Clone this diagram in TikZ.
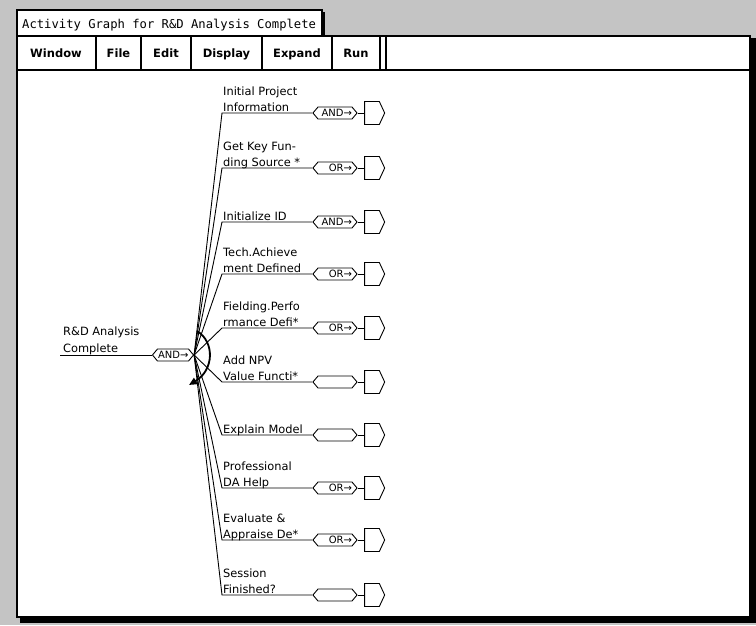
\documentclass[tikz,border=0pt]{standalone}
\usepackage{fontspec}
\setmainfont{DejaVu Sans}
\newfontfamily\titlefont{DejaVu Sans Mono}
\usetikzlibrary{shapes.symbols, arrows.meta}

\definecolor{desk}{RGB}{196,196,196}

\begin{document}
\begin{tikzpicture}[x=1pt, y=-1pt,
  lbl/.style={anchor=base west, inner sep=0pt, font=\fontsize{11.4}{13}\selectfont},
  gate/.style={draw, fill=white, signal, signal to=east and west, signal pointer angle=100,
    minimum width=44pt, minimum height=12pt, inner sep=0pt,
    font=\fontsize{10}{10}\selectfont, line width=0.9pt},
  outtag/.style={draw, fill=white, signal, signal to=east, signal pointer angle=130,
    minimum width=20pt, minimum height=23pt, inner sep=0pt, line width=0.9pt},
  wire/.style={line width=0.9pt},
  menuitem/.style={anchor=base, inner sep=0pt, font=\fontsize{11.5}{12}\selectfont\bfseries},
  frame/.style={draw, fill=white, line width=1.8pt}
]
\useasboundingbox (0,0) rectangle (756,625);

% desktop pattern
\fill[desk] (0,0) rectangle (756,625);

% window with drop shadow
\fill[black] (20,38) rectangle (756,623);
\draw[frame] (17,36) rectangle (750,617);

% title tab
\fill[black] (20,12) rectangle (325,36);
\draw[frame] (17,10) rectangle (322,36);
\node[anchor=base west, inner sep=0pt, font=\titlefont\fontsize{12.2}{13}\selectfont]
  (title) at (22,28) {Activity Graph for R\&D Analysis Complete};

% menu bar
\draw[frame] (17,36) rectangle (750,70);
\foreach \mx in {96,141,191,262,332,380,386}
  \draw[line width=1.6pt] (\mx,36) -- (\mx,70);
\node[menuitem] (mwindow)  at (56,57)  {Window};
\node[menuitem] (mfile)    at (118.5,57) {File};
\node[menuitem] (medit)    at (166,57) {Edit};
\node[menuitem] (mdisplay) at (226.5,57) {Display};
\node[menuitem] (mexpand)  at (297,57) {Expand};
\node[menuitem] (mrun)     at (356,57) {Run};

% root activity
\node[lbl] (rootA) at (63,335) {R\&D Analysis};
\node[lbl] (rootB) at (63,352) {Complete};
\coordinate (rootin) at (60,355);
\node[gate, minimum width=40pt] (g0) at (173,355) {\makebox[31pt][r]{AND→}};
\draw[wire] (rootin) -- (g0.west);

% sub-activities
\foreach \i/\y/\la/\lb/\op in {
  1/113/{Initial Project}/{Information}/{AND→},
  2/168/{Get Key Fun-}/{ding Source *}/{OR→},
  3/222/{}/{Initialize ID}/{AND→},
  4/274/{Tech.Achieve}/{ment Defined}/{OR→},
  5/328/{Fielding.Perfo}/{rmance Defi*}/{OR→},
  6/382/{Add NPV}/{Value Functi*}/{},
  7/435/{}/{Explain Model}/{},
  8/488/{Professional}/{DA Help}/{OR→},
  9/540/{Evaluate \&}/{Appraise De*}/{OR→},
  10/595/{Session}/{Finished?}/{}
}{
  \coordinate (c\i) at (222,\y);
  \node[lbl] (la\i) at (223,\y-18) {\la};
  \node[lbl] (lb\i) at (223,\y-2) {\lb};
  \node[gate] (g\i) at (335,\y) {\makebox[34pt][r]{\op}};
  \node[outtag] (t\i) at (372,\y) {};
  \draw[wire] (g0.east) -- (c\i) -- (g\i.west);
  \draw[wire] (g\i.east) -- (t\i.west);
}

% ordering arc across the fan
\coordinate (arcA) at (197,331);
\coordinate (arcB) at (189,385);
\draw[line width=1.8pt, -{Triangle[length=8pt,width=7pt]}]
  (arcA) .. controls (215,342) and (214,370) .. (arcB);
\end{tikzpicture}
\end{document}
